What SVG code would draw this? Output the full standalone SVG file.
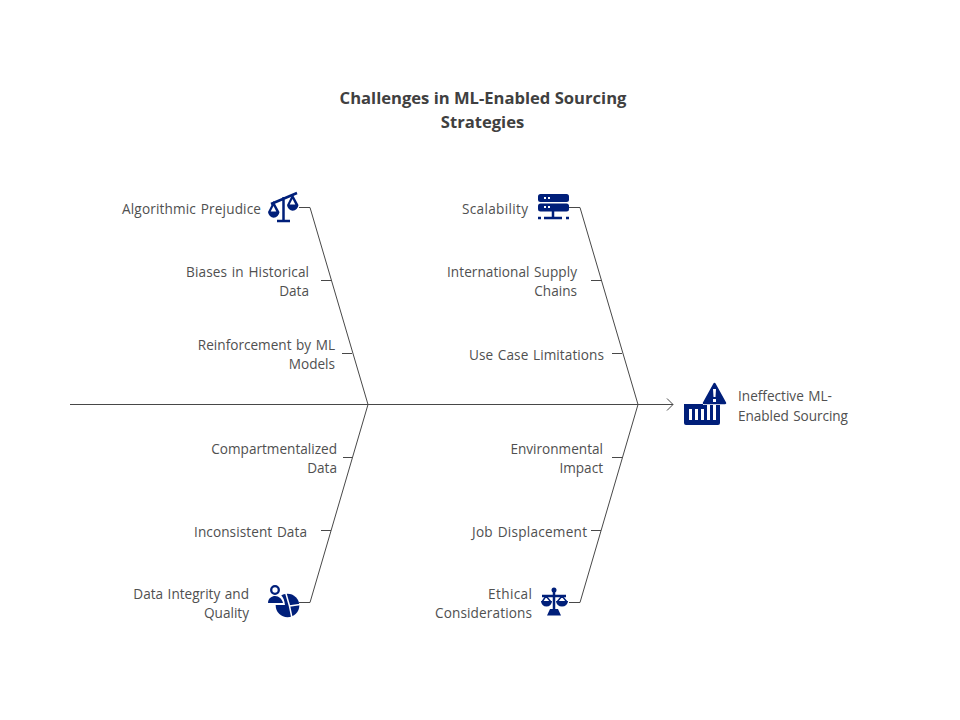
<svg xmlns="http://www.w3.org/2000/svg" width="960" height="720" viewBox="0 0 960 720">
<style>
text{font-family:"Open Sans","Noto Sans","Liberation Sans",sans-serif;font-size:13.6px;word-spacing:1px;fill:#505050}
.r{text-anchor:end}
.t{font-size:16.6px;font-weight:700;text-anchor:middle;fill:#404040;word-spacing:0}
.c{fill:none;stroke:#484848;stroke-width:1}
.i{fill:#001f7a}
.s{fill:none;stroke:#001f7a;stroke-width:2.500}
.h{fill:none;stroke:#001f7a;stroke-width:1.500}
.w{fill:#fff}
.g{fill:none;stroke:#fff;stroke-width:1.500}
</style>
<rect width="960" height="720" fill="#fff"/>
<g id="title"><text class="t" x="483" y="103.500">Challenges in ML-Enabled Sourcing</text><text class="t" x="482.500" y="127.500">Strategies</text></g>
<g id="connectors">
<path class="c" d="M70 404.500H673M667 398.500L673 404.500L667 410.500"/>
<path class="c" d="M299 207.500H310L368 404.500L310 602.500H299"/>
<path class="c" d="M569 207.500H580L638 404.500L580 602.500H569"/>
<path class="c" d="M321 280.500H331M342 353.500H352M343 457.500H352M321 530.500H331"/>
<path class="c" d="M591 280.500H602M612 353.500H622M612 457.500H622M591 530.500H601"/>
</g>
<g id="n1"><text class="r" x="261" y="214" textLength="139">Algorithmic Prejudice</text>
<path class="s" d="M271 204L297 193M283.500 197V220M277 221H290"/>
<path class="i" d="M273.500 201L268 212A5.800 6.500 0 0 0 279.500 212ZM292.500 194L287 205A5.800 6.500 0 0 0 298.500 205Z"/>
<path class="w" d="M273.500 206l2.800 5.500h-5.600zM292.500 199l2.800 5.500h-5.600z"/></g>
<g id="n2"><text class="r" x="309" y="277" textLength="123">Biases in Historical</text><text class="r" x="309" y="296">Data</text></g>
<g id="n3"><text class="r" x="335" y="350">Reinforcement by ML</text><text class="r" x="335" y="369">Models</text></g>
<g id="n4"><text class="r" x="337" y="454">Compartmentalized</text><text class="r" x="337" y="473">Data</text></g>
<g id="n5"><text class="r" x="307" y="537" textLength="113">Inconsistent Data</text></g>
<g id="n6"><text class="r" x="249" y="599">Data Integrity and</text><text class="r" x="249" y="618">Quality</text>
<circle class="i" cx="287.500" cy="605.500" r="11.800"/>
<path class="g" d="M285.500 592L289.500 606L292 618M289.500 606L300 604.500"/>
<path class="w" d="M266 605V601C267 596 271 593 275 593C280 593 284 596 285 605Z"/>
<circle class="w" cx="275" cy="590" r="6"/>
<circle cx="275" cy="590" r="3.800" fill="none" stroke="#001f7a" stroke-width="2.300"/>
<path class="i" d="M268 603C268 598 272 596 275 596C279 596 282 599 283 603Z"/></g>
<g id="n7"><text class="r" x="528" y="214" textLength="66">Scalability</text>
<rect class="i" x="538" y="194" width="31" height="8" rx="2.500"/><rect class="i" x="538" y="203.500" width="31" height="8" rx="2.500"/>
<path class="w" d="M544 197h2v2h-2zM548 197h2v2h-2zM544 206h2v2h-2zM548 206h2v2h-2z"/>
<path class="s" d="M553 211V218"/><path class="s" d="M538 218h3M544 218h18M566 218h3"/></g>
<g id="n8"><text class="r" x="577" y="277" textLength="130">International Supply</text><text class="r" x="577" y="296">Chains</text></g>
<g id="n9"><text class="r" x="604" y="360" textLength="135">Use Case Limitations</text></g>
<g id="n10"><text class="r" x="603" y="454">Environmental</text><text class="r" x="603" y="473">Impact</text></g>
<g id="n11"><text class="r" x="587" y="537" textLength="115">Job Displacement</text></g>
<g id="n12"><text class="r" x="532" y="599" textLength="44">Ethical</text><text class="r" x="532" y="618" textLength="97">Considerations</text>
<circle class="i" cx="554" cy="590" r="2.500"/>
<path class="s" d="M542 596H566M554 590V610"/>
<path class="i" d="M541 601H552A5.500 5.500 0 0 1 541 601ZM556 601H568A6 5.500 0 0 1 556 601ZM550 609H558L561 615.500H547Z"/>
<path class="h" d="M546 596L542 602M546 596L551 602M562 596L557 602M562 596L567 602"/></g>
<g id="effect"><text x="738" y="401">Ineffective ML-</text><text x="738" y="421" textLength="110">Enabled Sourcing</text>
<path class="i" d="M684 404H703V405H720V423A2 2 0 0 1 718 425H686A2 2 0 0 1 684 423Z"/>
<path class="w" d="M689 409h3v11h-3zM695 409h3v11h-3zM701 409h3v11h-3zM707 405h3v15h-3zM713 405h3v15h-3z"/>
<path class="i" d="M714.500 384L725 403H704Z" stroke="#001f7a" stroke-width="2.500" stroke-linejoin="round"/>
<path class="w" d="M713 389h3l-.500 8h-2zM713 399h3v3h-3z"/></g>
</svg>
